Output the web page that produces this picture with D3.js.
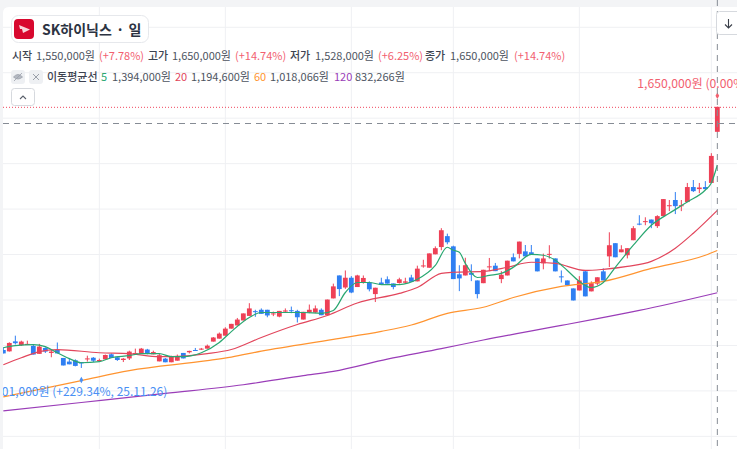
<!DOCTYPE html>
<html>
<head>
<meta charset="utf-8">
<script src="https://cdn.jsdelivr.net/npm/d3@7"></script>
<style>
  html, body { margin: 0; padding: 0; background: #fff; overflow: hidden; }
  svg { display: block; font-family: "Noto Sans CJK KR", "Noto Sans", sans-serif; }
</style>
</head>
<body>
<svg id="chart" width="737" height="449"></svg>
<script>
// prices are in 1,000 won, one entry per trading day
const opens = [
  580,574,618,601,602,598,563,589,567,580,
  545,529,535,527,540,546,533,539,561,548,
  536,543,564,563,582,561,530,542,526,533,
  567,570,580,583,586,617,630,643,674,688,
  710,730,751,757,757,738,727,749,755,752,
  714,745,745,757,733,807,908,855,898,857,
  879,877,826,877,891,873,875,876,899,882,
  950,942,1001,1033,1081,1036,913,908,919,886,
  874,945,951,892,908,988,1003,1014,1010,983,
  961,1000,983,904,886,851,842,926,838,872,
  926,992,1050,1010,997,1063,1136,1144,1154,1125,
  1169,1213,1240,1215,1231,1297,1288,1297,1315,1540
];
const closes = [
  565,611,610,617,607,560,595,573,573,565,
  512,517,510,521,543,533,536,558,545,536,
  542,573,567,586,563,571,557,526,551,554,
  543,576,577,586,599,635,652,674,695,714,
  741,763,748,739,732,741,752,754,752,724,
  748,757,763,733,802,860,848,898,833,908,
  897,847,854,866,872,857,891,882,880,938,
  952,1005,1028,1107,1054,892,895,953,911,826,
  933,948,927,911,973,970,1057,992,998,926,
  983,1003,926,901,866,798,886,816,874,900,
  886,1041,988,1023,1028,1116,1134,1147,1138,1169,
  1244,1217,1213,1217,1297,1279,1295,1288,1434,1650
];
const highs = [
  592,614,643,621,621,602,607,592,583,613,
  545,545,539,527,555,549,542,560,565,551,
  545,577,586,589,585,577,563,545,555,560,
  567,577,589,589,604,637,657,680,695,721,
  741,786,757,763,757,749,752,763,771,757,
  748,780,776,763,802,872,908,930,905,911,
  908,882,854,898,904,873,898,898,911,951,
  977,1005,1036,1116,1092,1039,953,986,957,886,
  933,985,963,927,973,1005,1057,1042,1042,983,
  1004,1041,983,930,886,851,905,930,882,900,
  939,1098,1050,1041,1028,1125,1173,1164,1154,1173,
  1244,1240,1275,1240,1315,1328,1315,1323,1446,1650
];
const lows = [
  565,573,604,598,602,560,563,567,548,565,
  512,517,508,501,529,527,527,539,545,532,
  527,536,564,563,561,561,530,526,526,533,
  543,565,577,580,586,617,630,643,674,688,
  710,730,726,739,724,729,724,743,742,701,
  714,742,742,733,733,807,817,849,830,857,
  872,838,791,866,872,847,872,872,880,882,
  942,942,1001,1019,1045,892,839,908,883,807,
  874,927,927,874,908,970,983,992,998,926,
  935,982,926,877,863,798,842,816,838,864,
  886,945,988,1010,983,1063,1129,1129,1116,1117,
  1169,1191,1178,1191,1231,1275,1270,1284,1315,1540
];

const ma5Days = [0,2,5,7,9,11,13,16,18,21,23,26,28,30,33,36,38,41,43,47,50,53,55,57,59,61,63,66,69,72,74,75,76,77,79,81,83,85,88,90,92,94,96,98,100,102,105,108,111,114,117,118,119];
const ma5 = [590,599,604,595,568,542,524,529,546,555,564,564,551,551,568,613,661,723,745,745,745,741,754,833,877,877,868,868,891,952,1032,1019,1010,961,899,908,917,944,1001,997,975,930,882,855,877,944,1041,1129,1182,1231,1284,1315,1394];
const ma20Days = [0,3,6,9,16,21,26,28,34,38,43,49,54,59,66,69,73,75,80,84,88,92,97,100,104,108,112,115,119];
const ma20 = [515,546,573,582,568,564,551,551,564,582,635,692,732,787,829,855,917,922,926,944,966,961,930,935,948,970,1028,1094,1194.6];
const ma60Days = [0,13,21,34,38,43,55,63,68,74,80,85,93,100,108,117,119];
const ma60 = [374,445,489,533,549,575,627,662,690,741,768,811,860,882,939,997,1018];
const ma120Days = [0,13,27,40,50,55,64,73,80,93,99,106,119];
const ma120 = [312,349,389,427,467,486,540,586,624,688,718,754,832];

const gridPrices = [200,400,600,800,1000,1200,1400,1600,1800,2000];
const monthStarts = [16,37,58,75,96,118];

const quoteLabels = ["시작", "고가", "저가", "종가"];
const quoteValues = ["1,550,000원", "1,650,000원", "1,528,000원", "1,650,000원"];
const quoteChanges = ["(+7.78%)", "(+14.74%)", "(+6.25%)", "(+14.74%)"];
const maPeriods = ["5", "20", "60", "120"];
const maValues = ["1,394,000원", "1,194,600원", "1,018,066원", "832,266원"];

const width = 737;
const height = 449;
const svg = d3.select("#chart");

const x = d3.scaleLinear().domain([0, 119]).range([3.33, 717.33]);
const y = d3.scaleLinear().domain([144.4, 2120]).range([449, 0]);

const red = "#ee4056";
const blue = "#2f7ff2";
const maColors = ["#2aa771", "#e2465c", "#ff9430", "#9a3db8"];

// page background and white panel
svg.append("rect").attr("width", width).attr("height", height).attr("fill", "#f3f4f6");
svg.append("path")
  .attr("d", `M3,${height} V13 Q3,7 9,7 H${width} V${height} Z`)
  .attr("fill", "#fff");

svg.append("defs").append("clipPath").attr("id", "panel")
  .append("rect").attr("x", 3).attr("y", 7).attr("width", width).attr("height", height);

const plot = svg.append("g").attr("clip-path", "url(#panel)");

plot.append("g").selectAll("line")
  .data(gridPrices)
  .join("line")
  .attr("x1", 3).attr("x2", width)
  .attr("y1", d => y(d)).attr("y2", d => y(d))
  .attr("stroke", "#eff0f3");

plot.append("g").selectAll("line")
  .data(monthStarts)
  .join("line")
  .attr("x1", d => x(d)).attr("x2", d => x(d))
  .attr("y1", 7).attr("y2", height)
  .attr("stroke", "#eff0f3");

// candles
const candles = plot.append("g").selectAll("g")
  .data(d3.range(opens.length))
  .join("g")
  .attr("fill", i => closes[i] >= opens[i] ? red : blue)
  .attr("stroke", i => closes[i] >= opens[i] ? red : blue);

candles.append("line")
  .attr("x1", i => x(i)).attr("x2", i => x(i))
  .attr("y1", i => y(highs[i])).attr("y2", i => y(lows[i]))
  .attr("stroke-width", 1);

candles.append("rect")
  .attr("x", i => x(i) - 2.4)
  .attr("width", 4.8)
  .attr("y", i => y(Math.max(opens[i], closes[i])))
  .attr("height", i => Math.max(1, Math.abs(y(opens[i]) - y(closes[i]))))
  .attr("stroke", "none");

// moving average lines
const maLine = d3.line().curve(d3.curveMonotoneX);
[[ma120Days, ma120], [ma60Days, ma60], [ma20Days, ma20], [ma5Days, ma5]].forEach((s, n) => {
  plot.append("path")
    .attr("d", maLine(s[0].map((d, i) => [x(d), y(s[1][i])])))
    .attr("fill", "none")
    .attr("stroke", maColors[3 - n])
    .attr("stroke-width", 1.2);
});

// current price and crosshair
svg.append("line")
  .attr("x1", 3).attr("x2", width)
  .attr("y1", y(1650) + 0.5).attr("y2", y(1650) + 0.5)
  .attr("stroke", "#f0465e").attr("stroke-dasharray", "1,2");
svg.append("line")
  .attr("x1", 3).attr("x2", width)
  .attr("y1", 123.5).attr("y2", 123.5)
  .attr("stroke", "#868c95").attr("stroke-dasharray", "6,5");
svg.append("line")
  .attr("x1", x(119)).attr("x2", x(119))
  .attr("y1", 0).attr("y2", height)
  .attr("stroke", "#868c95").attr("stroke-dasharray", "6,5").attr("stroke-width", 1);

// high / low markers
const lowDay = d3.range(lows.length).find(i => lows[i] === d3.min(lows));
const highDay = highs.indexOf(d3.max(highs));

plot.append("path")
  .attr("d", d3.symbol(d3.symbolDiamond, 12)())
  .attr("transform", `translate(${x(highDay)},${y(highs[highDay]) - 11})`)
  .attr("fill", "#f2606f");
plot.append("path")
  .attr("d", d3.symbol(d3.symbolDiamond, 12)())
  .attr("transform", `translate(${x(lowDay)},${y(lows[lowDay]) + 12})`)
  .attr("fill", "#4a90f4");

// the panel cuts both labels, same as the screenshot
plot.append("text")
  .attr("x", x(highDay) - 80).attr("y", y(highs[highDay]) - 19)
  .attr("font-size", 12.2).attr("fill", "#f2606f")
  .text("1,650,000원 (0.00%)");
plot.append("text")
  .attr("x", x(lowDay) + 86).attr("y", y(lows[lowDay]) + 28)
  .attr("text-anchor", "end")
  .attr("font-size", 12).attr("fill", "#4a90f4")
  .text("501,000원 (+229.34%, 25.11.26)");

// title chip
svg.append("rect")
  .attr("x", 11.5).attr("y", 15.5).attr("width", 137).attr("height", 27).attr("rx", 7)
  .attr("fill", "#fff").attr("stroke", "#e6e8ec");
svg.append("rect")
  .attr("x", 14).attr("y", 19).attr("width", 20).attr("height", 20).attr("rx", 4)
  .attr("fill", "#d8082e");
svg.append("path")
  .attr("d", "M19,25 L30,29.5 L23,33 L22,29 L20,29 Z")
  .attr("fill", "#f7d5da");
svg.append("text")
  .attr("x", 42).attr("y", 35)
  .attr("font-size", 14).attr("font-weight", 700).attr("fill", "#2c3342")
  .attr("word-spacing", 1)
  .text("SK하이닉스 · 일");

// quote row
const quoteLabelX = [12, 148, 290, 425];
const quoteValueX = [36, 172, 315, 450];
const quoteChangeX = [99, 235, 378, 514];
const row1 = svg.append("g").attr("font-size", 11);
quoteLabels.forEach((d, i) => {
  row1.append("text").attr("x", quoteLabelX[i]).attr("y", 60)
    .attr("fill", "#3d4350").attr("font-weight", 500).text(d);
  row1.append("text").attr("x", quoteValueX[i]).attr("y", 60)
    .attr("fill", "#4d5461").text(quoteValues[i]);
  row1.append("text").attr("x", quoteChangeX[i]).attr("y", 60)
    .attr("fill", "#f2606f").text(quoteChanges[i]);
});

// moving average row
const row2 = svg.append("g").attr("font-size", 11);
const maPeriodX = [101, 175, 254, 334];
const maValueX = [112, 191, 270, 355];
row2.append("text").attr("x", 47).attr("y", 81)
  .attr("fill", "#3d4350").attr("font-weight", 500).text("이동평균선");
maPeriods.forEach((d, i) => {
  row2.append("text").attr("x", maPeriodX[i]).attr("y", 81)
    .attr("fill", maColors[i]).text(d);
  row2.append("text").attr("x", maValueX[i]).attr("y", 81)
    .attr("fill", "#4d5461").text(maValues[i]);
});

// eye and close icons
svg.append("rect").attr("x", 11).attr("y", 70).attr("width", 14).attr("height", 14).attr("rx", 3).attr("fill", "#eef0f3");
svg.append("rect").attr("x", 29).attr("y", 70).attr("width", 14).attr("height", 14).attr("rx", 3).attr("fill", "#eef0f3");
svg.append("path").attr("d", "M13.5,77 Q18,72 22.5,77 Q18,81 13.5,77 Z M14,81 L22,73")
  .attr("fill", "#b4b9c2").attr("stroke", "#9aa0aa").attr("stroke-width", 0.8);
svg.append("path").attr("d", "M33,74 L39,80 M39,74 L33,80")
  .attr("fill", "none").attr("stroke", "#9aa0aa").attr("stroke-width", 1);

// collapse button
svg.append("rect").attr("x", 11.5).attr("y", 88.5).attr("width", 23).attr("height", 17).attr("rx", 3)
  .attr("fill", "#fff").attr("stroke", "#d6d9de");
svg.append("path").attr("d", "M20,99 L23,96 L26,99")
  .attr("fill", "none").attr("stroke", "#5a606b").attr("stroke-width", 1.1);

// scroll button, top right
svg.append("rect").attr("x", 716.5).attr("y", 11.5).attr("width", 30).attr("height", 23).attr("rx", 3)
  .attr("fill", "#fff").attr("stroke", "#d6d9de");
svg.append("path").attr("d", "M728.5,19 V28 M725,24.5 L728.5,28 L732,24.5")
  .attr("fill", "none").attr("stroke", "#3a3f49").attr("stroke-width", 1.1);
</script>
</body>
</html>
